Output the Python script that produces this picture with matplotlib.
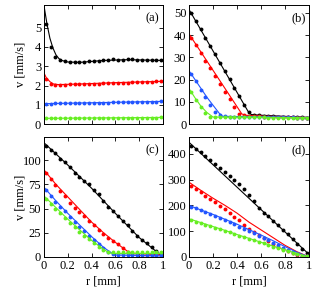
import numpy as np
import matplotlib.pyplot as plt

plt.rcParams['font.family'] = ['Liberation Serif', 'DejaVu Serif']
plt.rcParams['font.size'] = 9

# radial positions of the measured points (same for every panel)
r_pts = [0.015, 0.055, 0.096, 0.136, 0.176, 0.217, 0.257, 0.298, 0.338, 0.378,
         0.419, 0.459, 0.500, 0.540, 0.580, 0.621, 0.661, 0.702, 0.742, 0.782,
         0.823, 0.863, 0.904, 0.944, 0.985]

colors = ['black', '#ff0000', '#2255ff', '#66ee22']

# ---- panel (a)
a_dots = [
    [5.2, 4.0, 3.5, 3.3, 3.25, 3.2, 3.2, 3.2, 3.22, 3.25, 3.27, 3.28, 3.3, 3.32,
     3.35, 3.32, 3.34, 3.36, 3.35, 3.34, 3.33, 3.33, 3.32, 3.31, 3.3],
    [2.35, 2.1, 2.05, 2.05, 2.05, 2.06, 2.07, 2.08, 2.08, 2.09, 2.1, 2.1, 2.12,
     2.12, 2.13, 2.14, 2.15, 2.15, 2.16, 2.17, 2.18, 2.19, 2.2, 2.21, 2.22],
    [1.06, 1.06, 1.07, 1.07, 1.08, 1.08, 1.09, 1.09, 1.1, 1.1, 1.11, 1.11, 1.12,
     1.12, 1.13, 1.13, 1.14, 1.14, 1.15, 1.15, 1.16, 1.16, 1.17, 1.17, 1.18],
    [0.3, 0.3, 0.3, 0.3, 0.3, 0.31, 0.31, 0.31, 0.31, 0.31, 0.32, 0.32, 0.32,
     0.32, 0.32, 0.33, 0.33, 0.33, 0.33, 0.33, 0.34, 0.34, 0.34, 0.34, 0.35],
]
a_lines = [
    ([0, 0.025, 0.05, 0.075, 0.1, 0.125, 0.15, 0.2, 0.3, 0.5, 0.7, 1.0],
     [6.15, 5.2, 4.45, 3.95, 3.6, 3.4, 3.3, 3.22, 3.2, 3.3, 3.34, 3.3]),
    ([0, 0.02, 0.05, 0.08, 0.12, 0.3, 0.6, 1.0],
     [2.65, 2.4, 2.2, 2.08, 2.05, 2.08, 2.15, 2.22]),
    ([0, 1.0], [1.06, 1.18]),
    ([0, 1.0], [0.3, 0.35]),
]

# ---- panel (b)
b_dots = [
    [50.1, 46.4, 42.6, 38.9, 35.1, 31.3, 27.6, 23.8, 20.1, 16.3, 12.5, 8.8, 5.3,
     4.2, 3.9, 3.7, 3.6, 3.5, 3.4, 3.3, 3.2, 3.1, 3.0, 3.0, 2.9],
    [38.9, 35.5, 32.0, 28.5, 25.0, 21.5, 18.0, 14.6, 11.4, 7.9, 4.7, 4.0, 3.7,
     3.6, 3.5, 3.4, 3.3, 3.2, 3.1, 3.0, 3.0, 3.0, 2.9, 2.9, 2.9],
    [22.5, 19.2, 15.5, 12.0, 8.8, 5.5, 4.0, 3.5, 3.4, 3.3, 3.3, 3.2, 3.2, 3.2,
     3.1, 3.1, 3.1, 3.0, 3.0, 3.0, 3.0, 3.0, 2.9, 2.9, 2.9],
    [14.5, 10.8, 7.8, 5.2, 3.3, 3.0, 3.0, 3.0, 3.0, 3.0, 3.0, 3.0, 3.0, 3.0, 3.0,
     3.0, 2.9, 2.9, 2.9, 2.9, 2.9, 2.9, 2.8, 2.8, 2.8],
]
b_lines = [
    ([0, 0.5, 0.52, 0.6, 0.8, 1.0], [51.5, 5.0, 4.3, 4.0, 3.5, 3.0]),
    ([0, 0.44, 0.47, 0.6, 1.0], [40.5, 4.6, 4.0, 3.6, 3.0]),
    ([0, 0.05, 0.1, 0.15, 0.2, 0.25, 0.28, 1.0], [24, 20, 16, 12, 8.5, 5, 3.5, 3.0]),
    ([0, 0.05, 0.1, 0.15, 0.2, 1.0], [16, 11.8, 8.0, 5.2, 3.2, 2.9]),
]

# ---- panel (c)
c_dots = [
    [115, 110, 107, 101, 98, 93, 87, 83, 78, 75, 69, 65, 58, 52, 47, 42, 37, 33,
     27, 22, 17, 14, 10, 6, 4],
    [87, 80, 74, 68, 63, 56, 51, 46, 42, 37, 33, 28, 24, 20, 16, 13, 9, 5, 3, 3,
     2, 2, 2, 2, 2],
    [69, 63, 57, 52, 47, 41, 36, 31, 27, 22, 17, 13, 9, 5, 3, 2, 2, 2, 2, 2, 2,
     2, 2, 2, 2],
    [60, 55, 50, 45, 40, 35, 31, 26, 22, 18, 14, 10, 7, 5, 5, 5, 5, 5, 5, 5, 5,
     5, 5, 5, 5],
]
c_lines = [
    ([0, 0.2, 0.4, 0.6, 0.8, 1.0], [118, 95, 71, 45, 20, 0]),
    ([0, 0.1, 0.2, 0.3, 0.4, 0.5, 0.6, 0.7, 0.72, 1.0],
     [90, 75, 62, 49, 36, 25, 15, 6, 4, 2]),
    ([0, 0.1, 0.2, 0.3, 0.4, 0.5, 0.58, 0.6, 1.0], [72, 58, 45, 33, 21, 10, 3, 2, 1]),
    ([0, 0.1, 0.2, 0.3, 0.4, 0.5, 0.55, 0.6, 1.0], [63, 51, 39, 28, 17, 8, 4, 3.5, 3.5]),
]

# ---- panel (d)
d_dots = [
    [430, 420, 408, 390, 376, 360, 345, 330, 315, 298, 285, 262, 240, 218, 190,
     172, 158, 140, 125, 105, 88, 70, 50, 32, 15],
    [275, 262, 252, 238, 225, 212, 198, 185, 170, 155, 145, 125, 110, 95, 85,
     75, 62, 50, 40, 30, 22, 15, 8, 4, 2],
    [195, 188, 181, 174, 166, 158, 150, 142, 134, 126, 118, 110, 100, 92, 83,
     74, 65, 55, 46, 36, 27, 19, 11, 5, 2],
    [143, 137, 131, 125, 119, 113, 107, 101, 95, 89, 83, 77, 71, 65, 59, 53, 47,
     40, 34, 28, 22, 16, 10, 5, 2],
]
d_lines = [
    ([0, 1.0], [445, 10]),
    ([0, 0.1, 0.2, 0.3, 0.4, 0.5, 0.6, 0.7, 0.8, 0.9, 1.0],
     [290, 258, 228, 200, 170, 135, 105, 75, 45, 20, 0]),
    ([0, 0.1, 0.2, 0.3, 0.4, 0.5, 0.6, 0.7, 0.8, 0.9, 1.0],
     [200, 182, 165, 146, 127, 106, 85, 63, 40, 18, 0]),
    ([0, 0.1, 0.2, 0.3, 0.4, 0.5, 0.6, 0.7, 0.8, 0.9, 1.0],
     [148, 133, 118, 103, 87, 72, 57, 42, 28, 13, 0]),
]

panels = [
    ('(a)', a_dots, a_lines, 6.17, [0, 1, 2, 3, 4, 5]),
    ('(b)', b_dots, b_lines, 53.5, [0, 10, 20, 30, 40, 50]),
    ('(c)', c_dots, c_lines, 124, [0, 25, 50, 75, 100]),
    ('(d)', d_dots, d_lines, 466, [0, 100, 200, 300, 400]),
]

xticks = [0, 0.2, 0.4, 0.6, 0.8, 1]
xticklabels = ['0', '0.2', '0.4', '0.6', '0.8', '1']

fig = plt.figure(figsize=(3.14, 2.97), dpi=100)
rects = [
    [0.140, 0.582, 0.379, 0.401],
    [0.602, 0.582, 0.382, 0.401],
    [0.140, 0.135, 0.379, 0.404],
    [0.602, 0.135, 0.382, 0.404],
]

for i, (lab, dots, lines, ymax, yt) in enumerate(panels):
    ax = fig.add_axes(rects[i])
    for k in range(4):
        lx, ly = lines[k]
        ax.plot(lx, ly, '-', color=colors[k], lw=0.8)
        ax.plot(r_pts, dots[k], 'o', color=colors[k], ms=2.8, mew=0)
    ax.set_xlim(0, 1)
    ax.set_ylim(0, ymax)
    ax.set_xticks(xticks)
    ax.set_yticks(yt)
    ax.tick_params(direction='in', top=True, right=True, length=3, width=0.6, pad=2)
    if i < 2:
        ax.set_xticklabels([])
    else:
        ax.set_xticklabels(xticklabels)
        ax.set_xlabel('r [mm]', labelpad=3)
    if i % 2 == 0:
        ax.set_ylabel('v [mm/s]')
        ax.yaxis.set_label_coords(-0.15, 0.5)
    for s in ax.spines.values():
        s.set_linewidth(0.7)
    ax.text(0.97, 0.94, lab, transform=ax.transAxes, ha='right', va='top')

fig.savefig('out.png', dpi=100)
